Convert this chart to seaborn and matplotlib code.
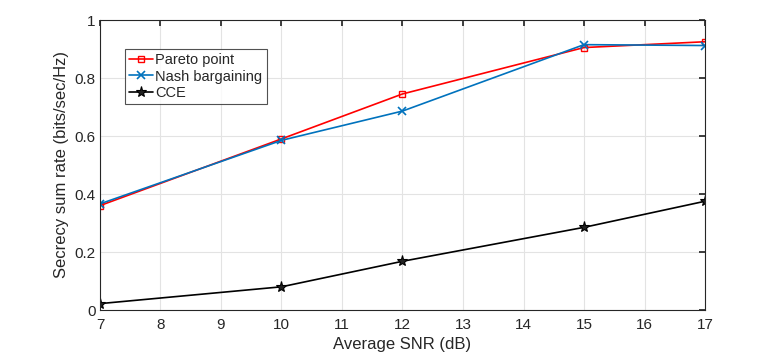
import matplotlib
matplotlib.use("Agg")
import matplotlib.pyplot as plt
import pandas as pd
import seaborn as sns

# ─── Data ────────────────────────────────────────────────────────────────
snr_db = [7, 10, 12, 15, 17]
pareto = [0.360, 0.590, 0.745, 0.905, 0.925]
nash = [0.366, 0.585, 0.686, 0.915, 0.912]
cce = [0.022, 0.080, 0.168, 0.285, 0.375]

series_names = ["Pareto point", "Nash bargaining", "CCE"]
x_ticks = list(range(7, 18))
y_ticks = [0, 0.2, 0.4, 0.6, 0.8, 1]
y_tick_labels = ["0", "0.2", "0.4", "0.6", "0.8", "1"]

df = pd.DataFrame({
    "snr": snr_db * 3,
    "rate": pareto + nash + cce,
    "scheme": [s for s in series_names for _ in snr_db],
})

sns.set_theme(style="white")
plt.rcParams["font.family"] = ["Liberation Sans", "DejaVu Sans"]

fig = plt.figure(figsize=(7.72, 3.52), dpi=100)
ax = fig.add_axes([100 / 772, 1 - 310 / 352, 605 / 772, 290 / 352])

colors = {"Pareto point": "#ff0000", "Nash bargaining": "#0072bd", "CCE": "#000000"}
styles = {
    "Pareto point": dict(marker="s", mfc="none", ms=5, mew=1),
    "Nash bargaining": dict(marker="x", ms=6, mew=1.2),
    "CCE": dict(marker="*", ms=8, mfc="#222222", mec="black", mew=0.8),
}

for name in series_names:
    sub = df[df["scheme"] == name]
    sns.lineplot(data=sub, x="snr", y="rate", ax=ax, color=colors[name],
                 label=name, lw=1.2, **styles[name])
    line = ax.lines[-1]
    line.set_markeredgecolor(styles[name].get("mec", colors[name]))

ax.set_xlim(7, 17)
ax.set_ylim(0, 1)
ax.set_xticks(x_ticks)
ax.set_yticks(y_ticks)
ax.set_yticklabels(y_tick_labels)
ax.grid(True, color="#e3e3e3", lw=0.8)
ax.tick_params(direction="in", top=True, right=True, length=4,
               labelsize=11, colors="#262626")
ax.tick_params(axis="x", pad=6)
ax.tick_params(axis="y", pad=3)
for sp in ax.spines.values():
    sp.set_color("#262626")
    sp.set_linewidth(0.8)

ax.set_xlabel("Average SNR (dB)", fontsize=12, color="#262626", labelpad=3)
ax.set_ylabel("Secrecy sum rate (bits/sec/Hz)", fontsize=12, color="#262626", labelpad=4)

leg = ax.legend(loc="upper left", bbox_to_anchor=(0.041, 0.90), fontsize=10.5,
                frameon=True, fancybox=False, borderpad=0.3, labelspacing=0.15,
                handlelength=1.6, handletextpad=0.2, borderaxespad=0)
leg.get_frame().set_edgecolor("#262626")
leg.get_frame().set_linewidth(0.8)

fig.savefig("out.png", dpi=100)
